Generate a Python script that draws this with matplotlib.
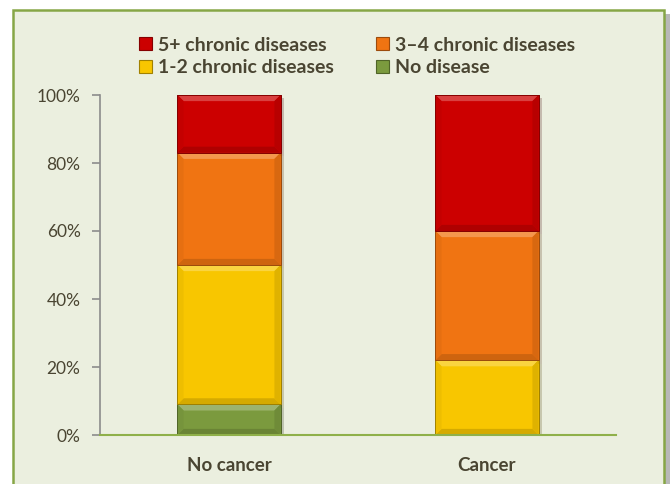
import matplotlib
matplotlib.use("Agg")
import matplotlib.pyplot as plt
import matplotlib.patches as mpatches
import matplotlib.patheffects as pe
import matplotlib.colors as mcolors
import numpy as np

categories = ["No cancer", "Cancer"]
series_names = ["No disease", "1-2 chronic diseases", "3\u20134 chronic diseases", "5+ chronic diseases"]
no_disease = [0.09, 0.0]
one_two = [0.41, 0.22]
three_four = [0.33, 0.38]
five_plus = [0.17, 0.40]
yticks = [0, 0.2, 0.4, 0.6, 0.8, 1.0]
ytick_labels = ["0%", "20%", "40%", "60%", "80%", "100%"]

colors = ["#7B9A3E", "#F8C600", "#F07412", "#CC0000"]
bg = "#EBEFDF"
text_color = "#4A4532"

plt.rcParams['font.family'] = ['Lato', 'DejaVu Sans']


def shade(c, f):
    r = np.array(mcolors.to_rgb(c))
    if f >= 0:
        r = r + (1 - r) * f
    else:
        r = r * (1 + f)
    return tuple(np.clip(r, 0, 1))


fig = plt.figure(figsize=(6.7, 4.84), dpi=100)
fig.patch.set_facecolor("white")
shadow = mpatches.Rectangle((16/670, -0.05), 654/670, 1 - 14/484 + 0.05, transform=fig.transFigure,
                            facecolor="#B8B8B8", edgecolor="none", zorder=-11)
fig.patches.append(shadow)
border = mpatches.Rectangle((13/670, -0.05), 651/670, 1 - 10/484 + 0.05, transform=fig.transFigure,
                            facecolor=bg, edgecolor="#86A646", linewidth=1.8, zorder=-10)
fig.patches.append(border)

ax = fig.add_axes([100/670, 1-435/484, 516/670, 340/484])
ax.set_facecolor(bg)
ax.patch.set_alpha(0)

width = 0.4
x = np.arange(len(categories))
series = [no_disease, one_two, three_four, five_plus]
bottom = np.zeros(len(categories))
handles = []
bx, by = 0.024, 0.018
for vals, c, name in zip(series, colors, series_names):
    vals = np.array(vals)
    ec = shade(c, -0.35)
    bars = ax.bar(x, vals, width, bottom=bottom, color=c, edgecolor=ec, linewidth=0.6,
                  label=name, zorder=3)
    for b in bars:
        if b.get_height() <= 0:
            continue
        b.set_path_effects([pe.SimplePatchShadow(offset=(2.5, -2.5), alpha=0.22), pe.Normal()])
        x0, y0 = b.get_x(), b.get_y()
        x1, y1 = x0 + b.get_width(), y0 + b.get_height()
        top = [(x0, y1), (x1, y1), (x1 - bx, y1 - by), (x0 + bx, y1 - by)]
        bot = [(x0, y0), (x1, y0), (x1 - bx, y0 + by), (x0 + bx, y0 + by)]
        left = [(x0, y0), (x0, y1), (x0 + bx, y1 - by), (x0 + bx, y0 + by)]
        right = [(x1, y0), (x1, y1), (x1 - bx, y1 - by), (x1 - bx, y0 + by)]
        for poly, f in [(top, 0.25), (bot, -0.14), (left, -0.04), (right, -0.1)]:
            ax.add_patch(mpatches.Polygon(poly, closed=True, facecolor=shade(c, f),
                                          edgecolor="none", zorder=3.5))
        ax.add_patch(mpatches.Rectangle((x0, y0), x1 - x0, y1 - y0, facecolor="none",
                                        edgecolor=ec, linewidth=0.7, zorder=3.6))
    handles.append(mpatches.Patch(facecolor=c, edgecolor=ec, linewidth=0.8, label=name))
    bottom = bottom + vals

ax.set_xlim(-0.5, 1.5)
ax.set_ylim(0, 1)
ax.set_yticks(yticks)
ax.set_yticklabels(ytick_labels, fontsize=12.5, color=text_color)
ax.set_xticks(x)
ax.set_xticklabels(categories, fontsize=13.5, fontweight="bold", color=text_color)
ax.tick_params(axis="x", length=0, pad=16)
ax.tick_params(axis="y", length=6, width=1.2, color="#8C8C8C", pad=8)
for s in ["top", "right"]:
    ax.spines[s].set_visible(False)
ax.spines["left"].set_color("#8C8C8C")
ax.spines["left"].set_linewidth(1.2)
ax.spines["bottom"].set_color("#8FB04A")
ax.spines["bottom"].set_linewidth(1.5)
ax.spines["bottom"].set_zorder(4)

order = [3, 1, 2, 0]
leg = fig.legend([handles[i] for i in order], [series_names[i] for i in order],
                 ncol=2, loc="center", bbox_to_anchor=(357/670, 1-56.5/484), frameon=False,
                 prop={"weight": "bold", "size": 14}, handlelength=0.65, handleheight=0.65,
                 handletextpad=0.3, columnspacing=2.2, labelspacing=0.28,
                 borderpad=0, borderaxespad=0)
for t in leg.get_texts():
    t.set_color(text_color)

fig.savefig("out.png", dpi=100, facecolor="white")
